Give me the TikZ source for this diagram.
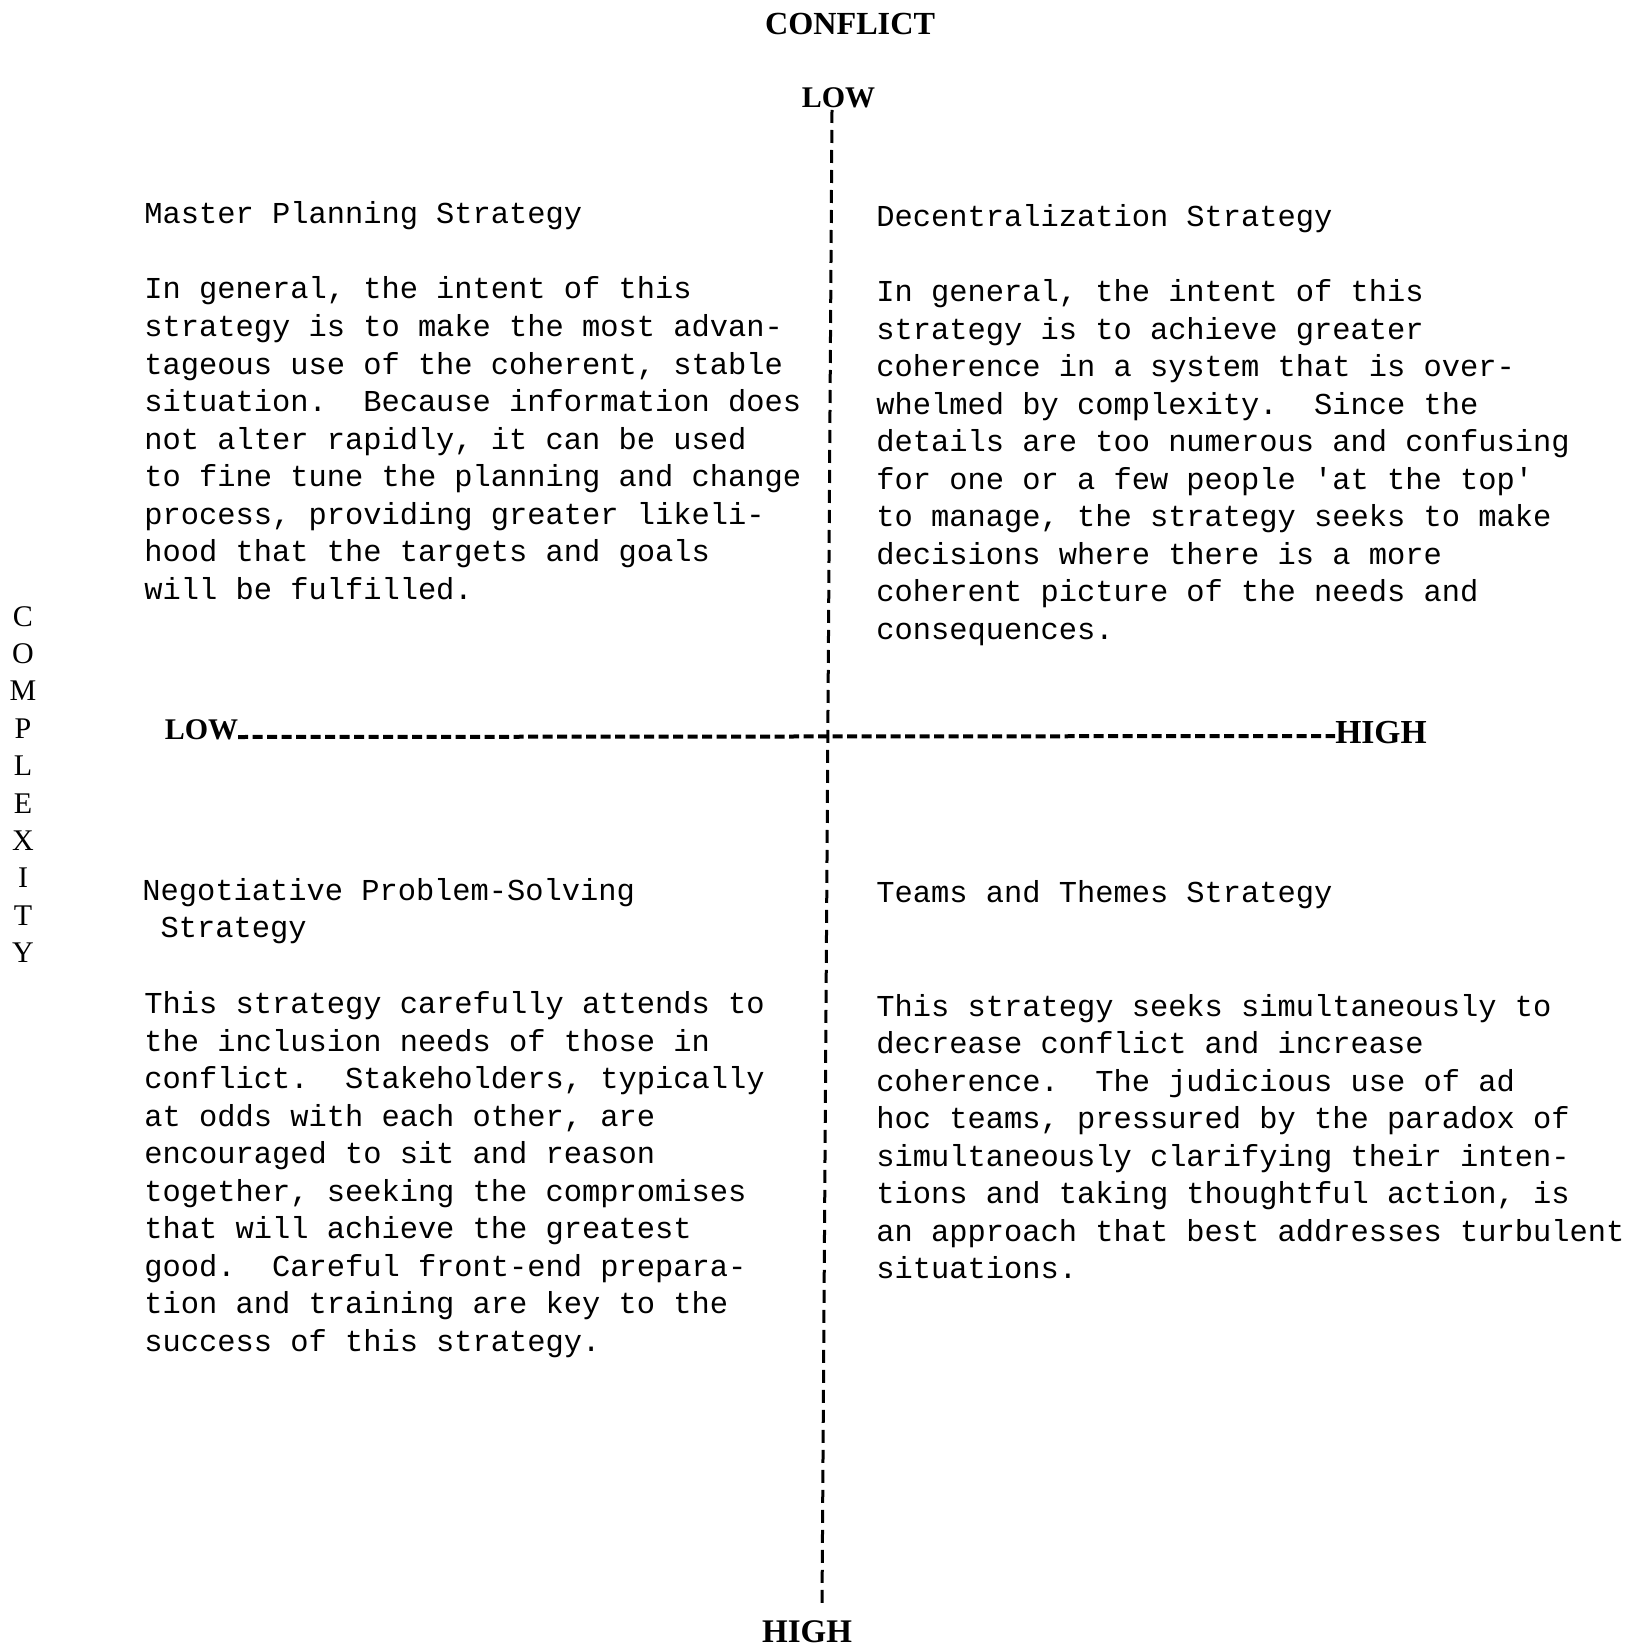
\documentclass[tikz,border=0pt]{standalone}
\usepackage{fontspec}
\setmainfont{Liberation Serif}
\setmonofont{Liberation Mono}
\newcommand\tline[1]{\hbox{#1}}
\newcommand\ltr[1]{\hbox to 30pt{\hss#1\hss}}
\begin{document}
\frenchspacing
\begin{tikzpicture}[x=0.5pt,y=-0.5pt,
  axislabel/.style={font=\bfseries\fontsize{#1}{#1}\selectfont, inner sep=0pt, anchor=base},
  mono/.style={font=\ttfamily\fontsize{15.2}{18.78}\selectfont, inner sep=0pt, anchor=base west},
  vaxis/.style={line width=1.5pt, dash pattern=on 6.5pt off 3.5pt},
  haxis/.style={line width=2pt, dash pattern=on 5pt off 2.25pt}]
\useasboundingbox[fill=white] (0,0) rectangle (1643,1647);

% axis labels
\node[axislabel=16.1] (conflict) at (850,35) {CONFLICT};
\node[axislabel=15] (lowtop) at (838.5,108) {LOW};
\node[axislabel=16.5] (highbot) at (807,1642) {HIGH};
\node[axislabel=15] (lowleft) at (201.5,739) {LOW};
\node[axislabel=16.8] (highright) at (1381,743) {HIGH};

\node[font=\fontsize{15}{18.7}\selectfont, inner sep=0pt, anchor=base] (complexity) at (23,626)
  {\vtop{\ltr{C}\ltr{O}\ltr{M}\ltr{P}\ltr{L}\ltr{E}\ltr{X}\ltr{I}\ltr{T}\ltr{Y}}};

% axes
\coordinate (vstart) at (832,110);
\coordinate (vend) at (822,1607);
\coordinate (hstart) at (238,737);
\coordinate (hend) at (1335,736);
\draw[vaxis] (vstart) -- (vend);
\draw[haxis] (hstart) -- (hend);

% top left
\node[mono] (tltitle) at (144,224) {Master Planning Strategy};
\node[mono] (tlbody) at (144,299) {\vtop{%
\tline{In general, the intent of this}
\tline{strategy is to make the most advan-}
\tline{tageous use of the coherent, stable}
\tline{situation.\ \ Because information does}
\tline{not alter rapidly, it can be used}
\tline{to fine tune the planning and change}
\tline{process, providing greater likeli-}
\tline{hood that the targets and goals}
\tline{will be fulfilled.}}};

% top right
\node[mono] (trtitle) at (876,227) {Decentralization Strategy};
\node[mono] (trbody) at (876,301.5) {\vtop{%
\tline{In general, the intent of this}
\tline{strategy is to achieve greater}
\tline{coherence in a system that is over-}
\tline{whelmed by complexity.\ \ Since the}
\tline{details are too numerous and confusing}
\tline{for one or a few people 'at the top'}
\tline{to manage, the strategy seeks to make}
\tline{decisions where there is a more}
\tline{coherent picture of the needs and}
\tline{consequences.}}};

% bottom left
\node[mono] (bltitle) at (142,900) {\vtop{%
\tline{Negotiative Problem-Solving}
\tline{\ Strategy}}};
\node[mono] (blbody) at (144,1013.5) {\vtop{%
\tline{This strategy carefully attends to}
\tline{the inclusion needs of those in}
\tline{conflict.\ \ Stakeholders, typically}
\tline{at odds with each other, are}
\tline{encouraged to sit and reason}
\tline{together, seeking the compromises}
\tline{that will achieve the greatest}
\tline{good.\ \ Careful front-end prepara-}
\tline{tion and training are key to the}
\tline{success of this strategy.}}};

% bottom right
\node[mono] (brtitle) at (876,902) {Teams and Themes Strategy};
\node[mono] (brbody) at (876,1016) {\vtop{%
\tline{This strategy seeks simultaneously to}
\tline{decrease conflict and increase}
\tline{coherence.\ \ The judicious use of ad}
\tline{hoc teams, pressured by the paradox of}
\tline{simultaneously clarifying their inten-}
\tline{tions and taking thoughtful action, is}
\tline{an approach that best addresses turbulent}
\tline{situations.}}};
\end{tikzpicture}
\end{document}
